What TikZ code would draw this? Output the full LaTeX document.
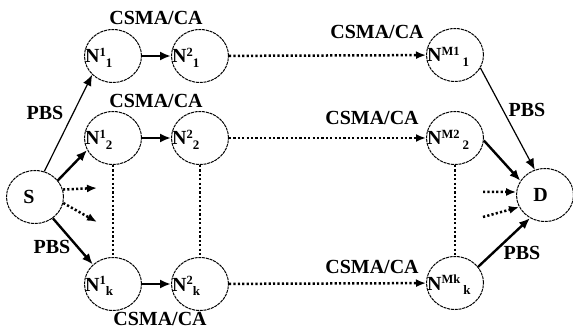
\documentclass[tikz,border=0pt]{standalone}
\usepackage{fontspec}
\setmainfont{Liberation Serif}
\usetikzlibrary{arrows.meta,shapes.geometric}
\newcommand{\nsup}[1]{\raisebox{6.5pt}{\fontsize{12.5}{12}\selectfont #1}}
\newcommand{\nsub}[1]{\raisebox{-4.5pt}{\fontsize{13}{12}\selectfont #1}}
\begin{document}
\begin{tikzpicture}[x=1pt,y=-1pt,
  font=\fontsize{20}{24}\selectfont\bfseries,
  nd/.style={draw, ellipse, minimum width=57pt, minimum height=53pt, inner sep=0pt,
    line width=1pt, dash pattern=on 3pt off 0.8pt},
  nlbl/.style={anchor=base west, inner sep=0pt, xshift=1pt, yshift=-7pt},
  txt/.style={inner sep=0pt},
  thinarr/.style={line width=1.2pt, -{Latex[length=11pt,width=9pt]}},
  thickarr/.style={line width=2.4pt, -{Latex[length=11pt,width=9pt]}},
  dotarr/.style={line width=2.5pt, dash pattern=on 2.2pt off 2.2pt, -{Latex[length=10pt,width=8pt]}},
  dotln/.style={line width=2.5pt, dash pattern=on 2.2pt off 2.2pt}
]
\useasboundingbox (0,0) rectangle (573,331);

% nodes
\node[nd, label={[txt, xshift=-6pt]center:S}] (s) at (35,197) {};
\node[nd, label={[txt, xshift=-4.5pt]center:D}] (d) at (545,195) {};

\node[nd, label={[nlbl]west:N\nsup{1}\nsub{1}}] (n11) at (113,56) {};
\node[nd, label={[nlbl]west:N\nsup{2}\nsub{1}}] (n21) at (200,56) {};
\node[nd, label={[nlbl]west:N\nsup{M1}\hspace{3pt}\nsub{1}}] (nm1) at (455,55) {};

\node[nd, label={[nlbl]west:N\nsup{1}\nsub{2}}] (n12) at (113,138) {};
\node[nd, label={[nlbl]west:N\nsup{2}\nsub{2}}] (n22) at (200,138) {};
\node[nd, label={[nlbl]west:N\nsup{M2}\hspace{3pt}\nsub{2}}] (nm2) at (455,138) {};

\node[nd, label={[nlbl]west:N\nsup{1}\nsub{k}}] (n1k) at (113,284) {};
\node[nd, label={[nlbl]west:N\nsup{2}\nsub{k}}] (n2k) at (200,284) {};
\node[nd, label={[nlbl]west:N\nsup{Mk}\hspace{3pt}\nsub{k}}] (nmk) at (455,283) {};

% labels
\node[txt] (c1) at (156,18) {CSMA/CA};
\node[txt] (c2) at (156,101) {CSMA/CA};
\node[txt] (ck) at (160,319) {CSMA/CA};
\node[txt] (cm1) at (377,32) {CSMA/CA};
\node[txt] (cm2) at (372,118) {CSMA/CA};
\node[txt] (cmk) at (372,267) {CSMA/CA};
\node[txt] (p1) at (45,113) {PBS};
\node[txt] (p2) at (52,247) {PBS};
\node[txt] (p3) at (527,110) {PBS};
\node[txt] (p4) at (522,253) {PBS};

% free ends
\coordinate (sa) at (97,188);
\coordinate (sb) at (97,222);
\coordinate (da) at (483,192);
\coordinate (db) at (483,217);

% from S
\draw[thinarr] (s.70) -- (n11.222);
\draw[thickarr] (s.36) -- (n12.205);
\draw[thickarr] (s.-50) -- (n1k.136);
\draw[dotarr] (s.15) -- (sa);
\draw[dotarr] (s.-12) -- (sb);

% rows
\draw[thickarr] (n11) -- (n21);
\draw[thickarr] (n12) -- (n22);
\draw[thickarr] (n1k) -- (n2k);
\draw[dotarr] (n21) -- (nm1);
\draw[dotarr] (n22) -- (nm2);
\draw[dotarr] (n2k) -- (nmk);

% vertical dotted
\draw[dotln] (n12.south) -- (n1k.north);
\draw[dotln] (n22.south) -- (n2k.north);
\draw[dotln] (nm2.south) -- (nmk.north);

% to D
\draw[thinarr] (nm1.-27) -- (d.112);
\draw[thickarr] (nm2.-5) -- (d.150);
\draw[thickarr] (nmk.35) -- (d.237);
\draw[dotarr] (da) -- (d.174);
\draw[dotarr] (db) -- (d.205);
\end{tikzpicture}
\end{document}
